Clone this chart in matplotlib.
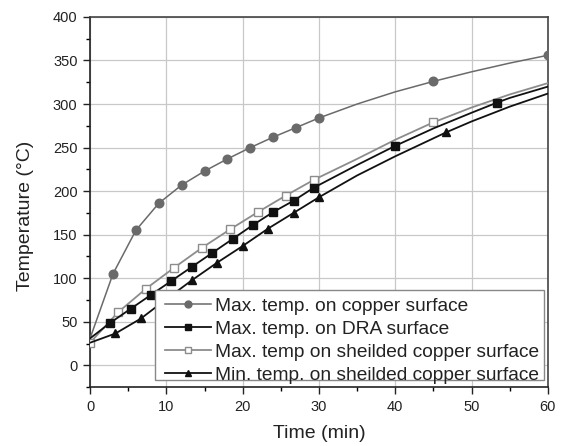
import matplotlib
matplotlib.use("Agg")
import matplotlib.pyplot as plt
from matplotlib.ticker import MultipleLocator
from matplotlib.patches import Rectangle

plt.rcParams['font.family'] = ['Liberation Sans', 'DejaVu Sans']

# Max. temp. on copper surface
cu_x = [0, 3, 6, 9, 12, 15, 18, 21, 24, 27, 30, 35, 40, 45, 50, 55, 60]
cu_y = [31, 105, 155, 186, 207, 223, 237, 250, 262, 273, 284, 300, 314, 326, 337, 347, 356]
cu_mark = [1, 2, 3, 4, 5, 6, 7, 8, 9, 10, 13, 16]

# Max. temp. on DRA surface
dra_x = [0, 2.67, 5.33, 8, 10.67, 13.33, 16, 18.67, 21.33, 24, 26.67, 29.33, 35, 40, 45, 50, 53.33, 55, 60]
dra_y = [31, 49, 65, 81, 97, 113, 129, 145, 161, 176, 189, 204, 230, 252, 272, 290, 301.6, 307, 320]
dra_mark = [1, 2, 3, 4, 5, 6, 7, 8, 9, 10, 11, 13, 16]

# Max. temp on sheilded copper surface
sh_x = [0, 3.67, 7.33, 11, 14.67, 18.33, 22, 25.67, 29.33, 35, 40, 45, 50, 55, 60]
sh_y = [26, 61, 88, 112, 135, 156, 176, 195, 213, 237, 259, 279, 296, 311, 324]
sh_mark = [0, 1, 2, 3, 4, 5, 6, 7, 8, 11]

# Min. temp. on sheilded copper surface
mn_x = [0, 3.33, 6.67, 10, 13.33, 16.67, 20, 23.33, 26.67, 30, 35, 40, 46.67, 50, 55, 60]
mn_y = [26, 36.6, 53.8, 76, 97.6, 118, 137, 157, 175, 193, 218, 240, 267.5, 280, 297, 312]
mn_mark = [1, 2, 3, 4, 5, 6, 7, 8, 9, 12]

labels = ["Max. temp. on copper surface",
          "Max. temp. on DRA surface",
          "Max. temp on sheilded copper surface",
          "Min. temp. on sheilded copper surface"]

fig = plt.figure(figsize=(5.63, 4.46), dpi=100)
ax = fig.add_axes([0.160, 0.132, 0.813, 0.830])

ax.plot(cu_x, cu_y, color='#6a6a6a', lw=1.1, marker='o', ms=6.2,
        mfc='#6a6a6a', mec='#6a6a6a', markevery=cu_mark, label=labels[0], zorder=3)
ax.plot(dra_x, dra_y, color='#111111', lw=1.3, marker='s', ms=5.2,
        mfc='#111111', mec='#111111', markevery=dra_mark, label=labels[1], zorder=4)
ax.plot(sh_x, sh_y, color='#8c8c8c', lw=1.3, marker='s', ms=5.6,
        mfc='white', mec='#8c8c8c', mew=1.0, markevery=sh_mark, label=labels[2], zorder=3)
ax.plot(mn_x, mn_y, color='#111111', lw=1.3, marker='^', ms=6.2,
        mfc='#111111', mec='#111111', markevery=mn_mark, label=labels[3], zorder=4)

ax.set_xlim(0, 60)
ax.set_ylim(-25, 400)
ax.xaxis.set_major_locator(MultipleLocator(10))
ax.xaxis.set_minor_locator(MultipleLocator(5))
ax.yaxis.set_major_locator(MultipleLocator(50))
ax.yaxis.set_minor_locator(MultipleLocator(25))
ax.grid(True, which='major', color='#c8c8c8', lw=0.9, zorder=0)
ax.set_axisbelow(True)

ax.tick_params(which='major', direction='out', length=5, width=1.0, labelsize=10.5,
               colors='#222222', pad=4, top=False, right=False)
ax.tick_params(which='minor', direction='out', length=3, width=1.0, top=False, right=False)
for s in ax.spines.values():
    s.set_color('#222222')
    s.set_linewidth(1.2)
ax.spines['top'].set_color('#444444')
ax.spines['right'].set_color('#444444')

ax.set_xlabel("Time (min)", fontsize=14, color='#222222', labelpad=8)
ax.set_ylabel("Temperature (°C)", fontsize=14, color='#222222')
ax.yaxis.set_label_coords(-0.122, 0.462)

# legend background box (axes coordinates)
ax.add_patch(Rectangle((0.142, 0.019), 0.849, 0.243, transform=ax.transAxes,
                       facecolor='white', edgecolor='#888888', lw=1.0, zorder=8))

leg = ax.legend(loc='lower right', bbox_to_anchor=(0.9855, 0.003), borderaxespad=0,
                fontsize=13.8, frameon=False, labelspacing=0.3, handlelength=2.4,
                handletextpad=0.2, borderpad=0.1, markerscale=0.8)
leg.set_zorder(10)
for t in leg.get_texts():
    t.set_color('#222222')

fig.savefig("out.png", dpi=100)
